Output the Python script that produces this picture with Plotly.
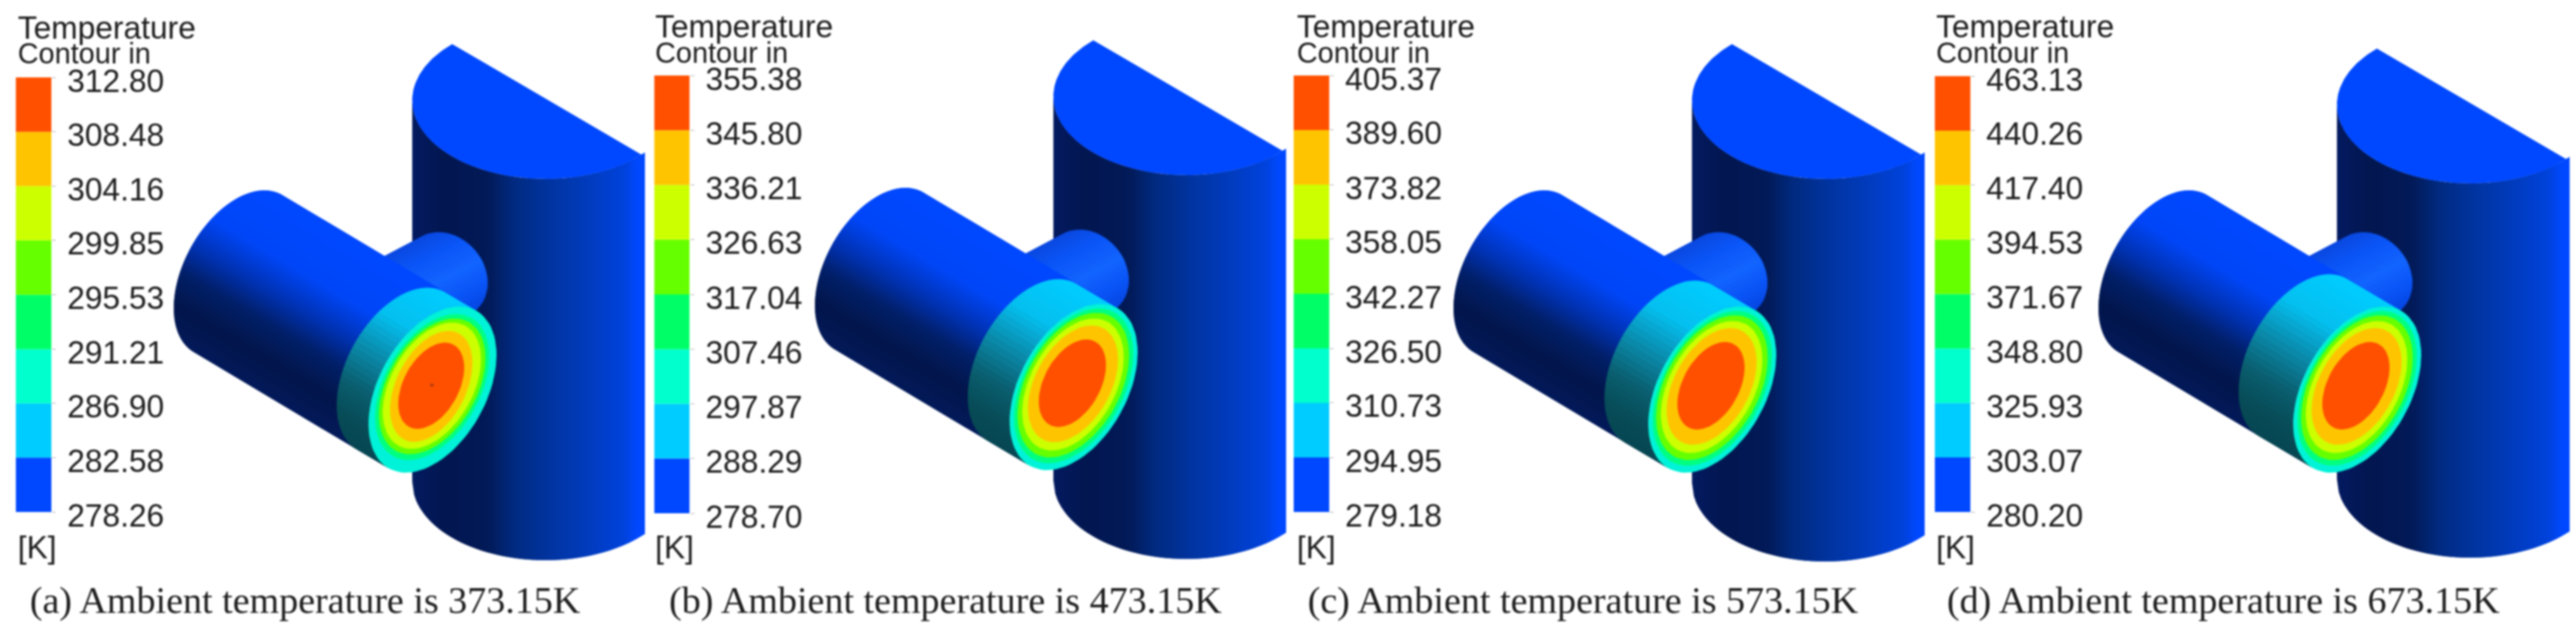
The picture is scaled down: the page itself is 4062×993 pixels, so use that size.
import numpy as np
import plotly.graph_objects as go

# ---------- chart values ----------
panel_ids = ["a", "b", "c", "d"]
ambient_temperatures = ["373.15K", "473.15K", "573.15K", "673.15K"]
levels_a = [278.26, 282.58, 286.90, 291.21, 295.53, 299.85, 304.16, 308.48, 312.80]
levels_b = [278.70, 288.29, 297.87, 307.46, 317.04, 326.63, 336.21, 345.80, 355.38]
levels_c = [279.18, 294.95, 310.73, 326.50, 342.27, 358.05, 373.82, 389.60, 405.37]
levels_d = [280.20, 303.07, 325.93, 348.80, 371.67, 394.53, 417.40, 440.26, 463.13]
band_colors = ["#0048ff", "#00ccff", "#00ffcc", "#00ff66", "#66ff00", "#ccff00", "#ffc400", "#ff5000"]

all_levels = [levels_a, levels_b, levels_c, levels_d]

# ---------- layout of the four panels (pixels) ----------
W, H = 4062, 993
bar_left = [25, 1031.5, 2040, 3051]
bar_top = [122, 119, 119, 120]
bar_bot = [807, 809, 807, 807]
bar_w = 56
text_left = [26, 1031, 2043, 3051]
cap_left = [45, 1053, 2060, 3068]
model_dx = [0, 1011, 2018, 3035]
model_dy = [0, -4, 0, 0]
body_dy_top = [0, -6, 0, 7]
body_dy_bot = [0, -2, 2, -4]
disc_depth = [50, 66, 69, 86]
show_center_dot = [True, False, False, False]
rings_first = [(0, 0, 101, 131, "#00f2d8"), (-.5, -4, 90, 115, "#00ff80"), (-.5, -5, 84, 107, "#66ff00"),
               (-1, -6, 77.5, 99.5, "#ccff00"), (-2, -5, 65, 87.5, "#ffc400"), (-2, -6, 52, 68, "#ff5000")]
rings_other = [(0, 0, 101, 131, "#00f2d8"), (0, -2, 94, 122, "#00ff80"), (-.5, -3, 88, 114, "#66ff00"),
               (-1, -4, 80, 104, "#ccff00"), (-1, -5, 71, 92, "#ffc400"), (-2, -6, 53, 69, "#ff5000")]

# ---------- shading ramps ----------
def hex2rgb(h):
    return np.array([int(h[i:i + 2], 16) for i in (1, 3, 5)], dtype=float)

def ramp(stops):
    pos = [s[0] for s in stops]
    cols = np.array([hex2rgb(s[1]) for s in stops])
    def f(u):
        c = [np.interp(u, pos, cols[:, k]) for k in range(3)]
        return "rgb(%d,%d,%d)" % tuple(int(round(v)) for v in c)
    return f

body_ramp = ramp([(650, "#031a60"), (700, "#021650"), (770, "#021a58"), (810, "#012a80"),
                  (867, "#0134a0"), (933, "#013cc0"), (985, "#0042dc"), (1005, "#0048ff"), (1017, "#0048ff")])
pipe_ramp = ramp([(0, "#0048ff"), (.30, "#0046f8"), (.48, "#0032b4"), (.64, "#011f68"),
                  (.82, "#02154b"), (1, "#031a5a")])
disc_ramp = ramp([(0, "#00ccff"), (.25, "#04c0f0"), (.47, "#0a8cad"), (.68, "#0a5f70"),
                  (.85, "#074c58"), (1, "#064652")])
neck_ramp = ramp([(0, "#0a48e0"), (.2, "#0a54f6"), (.5, "#1264ff"), (.75, "#0a54f6"), (1, "#0444e0")])

fig = go.Figure()

def poly(xs, ys, color):
    fig.add_trace(go.Scatter(x=list(xs), y=list(ys), mode="lines", fill="toself", fillcolor=color,
                             line=dict(width=0), hoverinfo="skip", xaxis="x", yaxis="y"))

def ellipse(cx, cy, A, B, phi, t):
    return cx + A * np.cos(t), cy + B * np.sin(t + phi)

PHI = np.radians(-24.6)

def cylinder(c0, c1, A, B, phi, col_fn, far_end=False, n=70):
    """Side of a cylinder from the ellipse at c0 to the ellipse at c1, shaded across its axis."""
    S = np.array(c1, float) - np.array(c0, float)
    d = S / np.hypot(*S)
    nrm = np.array([-d[1], d[0]])
    if nrm[1] < 0:
        nrm = -nrm
    tt = np.linspace(0, 2 * np.pi, 1441)[:-1]
    ex, ey = ellipse(0, 0, A, B, phi, tt)
    w = ex * nrm[0] + ey * nrm[1]
    t_min, t_max = tt[np.argmin(w)], tt[np.argmax(w)]
    wmin, wmax = w.min(), w.max()
    t_end = t_max if t_max > t_min else t_max + 2 * np.pi
    arc = np.linspace(t_min, t_end, n + 1)
    mid = ellipse(0, 0, A, B, phi, arc[n // 2])
    side = mid[0] * d[0] + mid[1] * d[1]
    if (side > 0) != far_end:
        arc = np.linspace(t_min + 2 * np.pi, t_end, n + 1)
    ref = c1 if far_end else c0
    sgn = -1 if far_end else 1
    for i in range(n):
        j = min(i + 2, n)
        x1, y1 = ellipse(ref[0], ref[1], A, B, phi, arc[i:j + 1])
        xs = np.r_[x1, x1[::-1] + sgn * S[0]]
        ys = np.r_[y1, y1[::-1] + sgn * S[1]]
        wm = ((x1[0] - ref[0]) * nrm[0] + (y1[0] - ref[1]) * nrm[1])
        u = (wm - wmin) / (wmax - wmin)
        poly(np.round(xs, 1), np.round(ys, 1), col_fn(u))

def draw_model(k):
    dx, dy = model_dx[k], model_dy[k]
    cx, a, b = 860.0, 210.0, 124.0
    cy_top = 158.0 + body_dy_top[k]
    shift = 601.0 + body_dy_bot[k] - body_dy_top[k]
    xs = np.arange(650, 1017, 6.0)
    for x0 in xs:
        x_seg = np.linspace(x0, min(x0 + 12, 1017), 5)
        top = cy_top + b * np.sqrt(np.clip(1 - ((x_seg - cx) / a) ** 2, 0, 1))
        px = np.r_[x_seg, x_seg[::-1]] + dx
        py = np.r_[top, (top + shift)[::-1]]
        poly(np.round(px, 1), np.round(py, 1), body_ramp(x0 + 3))
    th = np.linspace(np.arccos((713 - cx) / a), np.pi, 40)
    upper_x = cx + a * np.cos(th)
    upper_y = cy_top - b * np.sin(th)
    th2 = np.linspace(np.pi, 2 * np.pi - np.arccos((1017 - cx) / a), 60)
    low_x = cx + a * np.cos(th2)
    low_y = cy_top - b * np.sin(th2)
    poly(np.round(np.r_[upper_x, low_x, 1017] + dx, 1),
         np.round(np.r_[upper_y, low_y, cy_top + 89], 1), "#0048ff")
    cylinder((703 + dx - 110, 434 + dy + 58), (703 + dx, 434 + dy), 66, 68, np.radians(10), neck_ramp,
             far_end=True, n=30)
    F = (682.0 + dx, 614.0 + dy)
    P0 = (375.0 + dx, 431.0 + dy)
    cylinder(P0, F, 101, 131, PHI, pipe_ramp)
    depth = disc_depth[k]
    back = (F[0] - depth, F[1] - depth * 0.59)
    cylinder(back, F, 101, 131, PHI, disc_ramp, n=45)
    tf = np.linspace(0, 2 * np.pi, 90)
    for ox, oy, A, B, col in (rings_first if k == 0 else rings_other):
        x, y = ellipse(F[0] + ox, F[1] + oy, A, B, PHI, tf)
        poly(np.round(x, 1), np.round(y, 1), col)
    if show_center_dot[k]:
        fig.add_trace(go.Scatter(x=[681 + dx], y=[607 + dy], mode="markers", hoverinfo="skip",
                                 marker=dict(size=5, color="#a83a10"), xaxis="x", yaxis="y"))

for k in range(4):
    draw_model(k)

# ---------- legends: one bar axis and one tick-label axis per panel ----------
layout_axes = {}
annotations = []
for k, levels in enumerate(all_levels):
    ax_x = f"x{k + 2}"
    ax_y = f"y{2 * k + 2}"
    ax_l = f"y{2 * k + 3}"
    lo = np.array(levels[:-1])
    hi = np.array(levels[1:])
    fig.add_trace(go.Bar(x=["band"] * 8, y=hi - lo, base=lo, width=1, marker=dict(color=band_colors, line=dict(width=0)),
                         hoverinfo="skip", xaxis=ax_x, yaxis=ax_y))
    fig.add_trace(go.Scatter(x=["band"] * 9, y=levels, mode="lines", line=dict(width=0), opacity=0,
                             hoverinfo="skip", xaxis=ax_x, yaxis=ax_l))
    layout_axes[f"xaxis{k + 2}"] = dict(domain=[bar_left[k] / W, (bar_left[k] + bar_w) / W], anchor=ax_y,
                                         visible=False, type="category")
    dom = [1 - bar_bot[k] / H, 1 - bar_top[k] / H]
    layout_axes[f"yaxis{2 * k + 2}"] = dict(domain=dom, range=[levels[0], levels[-1]], anchor=ax_x, side="right",
                                             ticks="outside", ticklen=6, tickwidth=1, tickcolor="#a8a8a8",
                                             tickvals=levels, showticklabels=False, showgrid=False,
                                             zeroline=False, showline=False, automargin=False)
    layout_axes[f"yaxis{2 * k + 3}"] = dict(domain=[dom[0] - 5 / H, dom[1] - 5 / H], range=[levels[0], levels[-1]],
                                             anchor=ax_x, side="right", ticks="", tickvals=levels,
                                             ticktext=[f"{v:.2f}" for v in levels], ticklabelstandoff=24,
                                             tickfont=dict(family="Liberation Sans", size=50, color="#1c1c1c"),
                                             showgrid=False, zeroline=False, showline=False, automargin=False)
    for txt, yy, size in [("Temperature", 44 - (2 if k else 0), 50), ("Contour in", 84 - (1 if k else 0), 45.5),
                          ("[K]", 863, 50)]:
        annotations.append(dict(text=txt, x=text_left[k], y=yy, xref="x", yref="y", xanchor="left", yanchor="middle",
                                showarrow=False, font=dict(family="Liberation Sans", size=size, color="#1c1c1c")))
    annotations.append(dict(text=f"({panel_ids[k]}) Ambient temperature is {ambient_temperatures[k]}",
                            x=cap_left[k], y=946, xref="x", yref="y", xanchor="left", yanchor="middle",
                            showarrow=False, font=dict(family="Liberation Serif", size=60, color="#1c1c1c")))

fig.update_layout(width=W, height=H, margin=dict(l=0, r=0, t=0, b=0, pad=0, autoexpand=False), paper_bgcolor="white",
                  plot_bgcolor="rgba(0,0,0,0)", showlegend=False, hovermode=False, barmode="overlay",
                  xaxis=dict(range=[0, W], domain=[0, 1], visible=False, anchor="y", automargin=False),
                  yaxis=dict(range=[H, 0], domain=[0, 1], visible=False, anchor="x", automargin=False),
                  annotations=annotations, **layout_axes)

fig.write_html("out.html", config=dict(displayModeBar=False),
               post_script="document.body.style.margin='0';document.body.style.overflow='hidden';"
                           "document.getElementById('{plot_id}').style.filter='blur(1.5px)';")
